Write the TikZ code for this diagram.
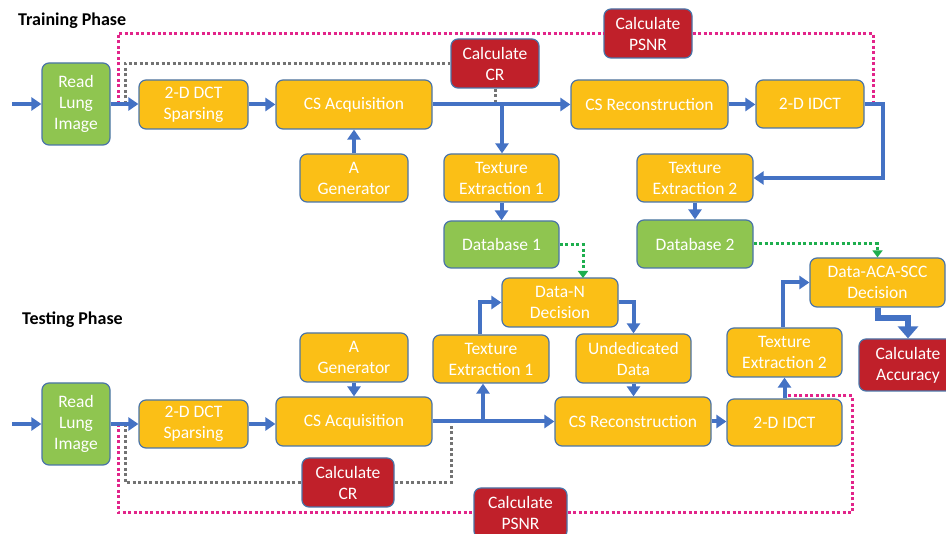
\documentclass[tikz,border=0pt]{standalone}
\usepackage{fontspec}
\setmainfont{Carlito}
\usetikzlibrary{arrows.meta,calc}
\definecolor{org}{HTML}{FBBF16}
\definecolor{grn}{HTML}{8FC550}
\definecolor{redc}{HTML}{C0202A}
\definecolor{bord}{HTML}{4A74A8}
\definecolor{blu}{HTML}{4472C4}
\definecolor{mag}{HTML}{E2248A}
\definecolor{gry}{HTML}{737373}
\definecolor{grnd}{HTML}{1EAE4E}
\tikzset{
  box/.style={draw=bord, line width=1.2pt, rounded corners=7pt, text=white, align=center,
    font=\fontsize{17.5}{21}\selectfont, inner sep=0pt},
  ob/.style={box, fill=org},
  gb/.style={box, fill=grn},
  rb/.style={box, fill=redc},
  sz/.style 2 args={minimum width=#1pt, minimum height=#2pt},
  flow/.style={draw=blu, line width=4pt, -{Triangle[length=10pt,width=13pt]}},
  bigflow/.style={draw=blu, line width=6pt, -{Triangle[length=12pt,width=20pt]}},
  gdot/.style={draw=gry, line width=3pt, dash pattern=on 3pt off 2.5pt},
  mdot/.style={draw=mag, line width=3pt, dash pattern=on 3pt off 2.5pt},
  gndot/.style={draw=grnd, line width=3pt, dash pattern=on 3pt off 2.5pt, -{Triangle[length=7pt,width=10pt]}},
  phase/.style={anchor=west, font=\fontsize{18}{20}\selectfont\bfseries, text=black, inner sep=0pt}
}
\begin{document}
\begin{tikzpicture}[x=1pt,y=-1pt]
\useasboundingbox (0,0) rectangle (946,534);
\clip (0,0) rectangle (946,534);
% ---------- Training phase ----------
\node[phase] (trainT) at (18,21) {Training Phase};
\node[gb, sz={68}{82}] (readA) at (76,104) {Read\\Lung\\Image};
\node[ob, sz={109}{49}] (dctA) at (193.5,104.5) {2-D DCT\\Sparsing};
\node[ob, sz={156}{49}] (acqA) at (354,104.5) {CS Acquisition};
\node[ob, sz={108}{48}] (genA) at (354,178) {A\\Generator};
\node[rb, sz={88}{49}] (crA) at (495,63.5) {Calculate\\CR};
\node[ob, sz={115}{48}] (tex1A) at (501.5,178) {Texture\\Extraction 1};
\node[gb, sz={115}{47}] (db1A) at (501.5,244.5) {Database 1};
\node[ob, sz={157}{49}] (recA) at (649.5,104.5) {CS Reconstruction};
\node[ob, sz={108}{48}] (idctA) at (810,104) {2-D IDCT};
\node[rb, sz={88}{49}] (psnrA) at (648,33.5) {Calculate\\PSNR};
\node[ob, sz={116}{48}] (tex2A) at (695,178) {Texture\\Extraction 2};
\node[gb, sz={116}{48}] (db2A) at (695,244) {Database 2};
% ---------- Testing phase ----------
\node[phase] (testT) at (22,320) {Testing Phase};
\node[gb, sz={68}{82}] (readB) at (76,424) {Read\\Lung\\Image};
\node[ob, sz={109}{48}] (dctB) at (193.5,424) {2-D DCT\\Sparsing};
\node[ob, sz={156}{49}] (acqB) at (354,421.5) {CS Acquisition};
\node[ob, sz={108}{49}] (genB) at (354,357.5) {A\\Generator};
\node[rb, sz={92}{49}] (crB) at (348,482.5) {Calculate\\CR};
\node[ob, sz={116}{48}] (tex1B) at (491,359) {Texture\\Extraction 1};
\node[ob, sz={116}{49}] (dnB) at (560,302.5) {Data-N\\Decision};
\node[ob, sz={115}{49}] (undB) at (633.5,358.5) {Undedicated\\Data};
\node[ob, sz={156}{49}] (recB) at (633,421.5) {CS Reconstruction};
\node[ob, sz={115}{47}] (idctB) at (784.5,422.5) {2-D IDCT};
\node[ob, sz={115}{49}] (tex2B) at (784.5,352.5) {Texture\\Extraction 2};
\node[ob, sz={135}{49}] (acaB) at (877.5,282.5) {Data-ACA-SCC\\Decision};
\node[rb, sz={98}{52}] (accB) at (908,365) {Calculate\\Accuracy};
\node[rb, sz={93}{50}] (psnrB) at (520.5,513) {Calculate\\PSNR};
% ---------- coordinates ----------
\coordinate (inA) at (12,104);
\coordinate (inB) at (12,424);
\coordinate (brA) at (502,104.5);
\coordinate (turnA) at (883,104);
\coordinate (g1) at (583,278);
\coordinate (brB) at (483,421.5);
\coordinate (accTurn) at (878,318);
\coordinate (accTurn2) at (908,318);
% ---------- training connectors ----------
\draw[mdot] (118,104) |- (psnrA.west);
\draw[mdot] (psnrA.east) -| (873,104);
\draw[gdot] (125,104) |- (crA.west);
\draw[gdot] (crA.south) -- (crA.south |- acqA.east);
\draw[flow] (inA) -- (readA.west);
\draw[flow] (readA.east) -- (readA.east -| dctA.west);
\draw[flow] (dctA.east) -- (dctA.east -| acqA.west);
\draw[flow] (acqA.east) -- (recA.west);
\draw[flow] (brA) -- (brA |- tex1A.north);
\draw[flow] (genA.north) -- (acqA.south);
\draw[flow] (tex1A.south) -- (db1A.north);
\draw[flow] (recA.east) -- (recA.east -| idctA.west);
\draw[flow] (idctA.east) -- (turnA) |- (tex2A.east);
\draw[flow] (tex2A.south) -- (db2A.north);
\draw[gndot] (db1A.east) -| (g1);
\draw[gndot] (db2A.east) -| (acaB.north);
% ---------- testing connectors ----------
\draw[mdot] (118,424) |- (psnrB.west);
\draw[mdot] (psnrB.east) -| (852,396) -- (788,396);
\draw[gdot] (125,424) |- (crB.west);
\draw[gdot] (crB.east) -| (451,421.5);
\draw[flow] (inB) -- (readB.west);
\draw[flow] (readB.east) -- (readB.east -| dctB.west);
\draw[flow] (dctB.east) -- (dctB.east -| acqB.west);
\draw[flow] (acqB.east) -- (recB.west);
\draw[flow] (brB) -- (brB |- tex1B.south);
\draw[flow] (genB.south) -- (acqB.north);
\draw[flow] ($(tex1B.north)+(-11,0)$) |- (dnB.west);
\draw[flow] (dnB.east) -| (undB.north);
\draw[flow] (undB.south) -- (undB.south |- recB.north);
\draw[flow] (recB.east) -- (recB.east -| idctB.west);
\draw[flow] (idctB.north) -- (tex2B.south);
\draw[flow] ($(tex2B.north)+(-1.5,0)$) |- (acaB.west);
\draw[bigflow] (acaB.south -| accTurn) -- (accTurn) -- (accTurn2) -- (accB.north -| accTurn2);
\end{tikzpicture}
\end{document}
